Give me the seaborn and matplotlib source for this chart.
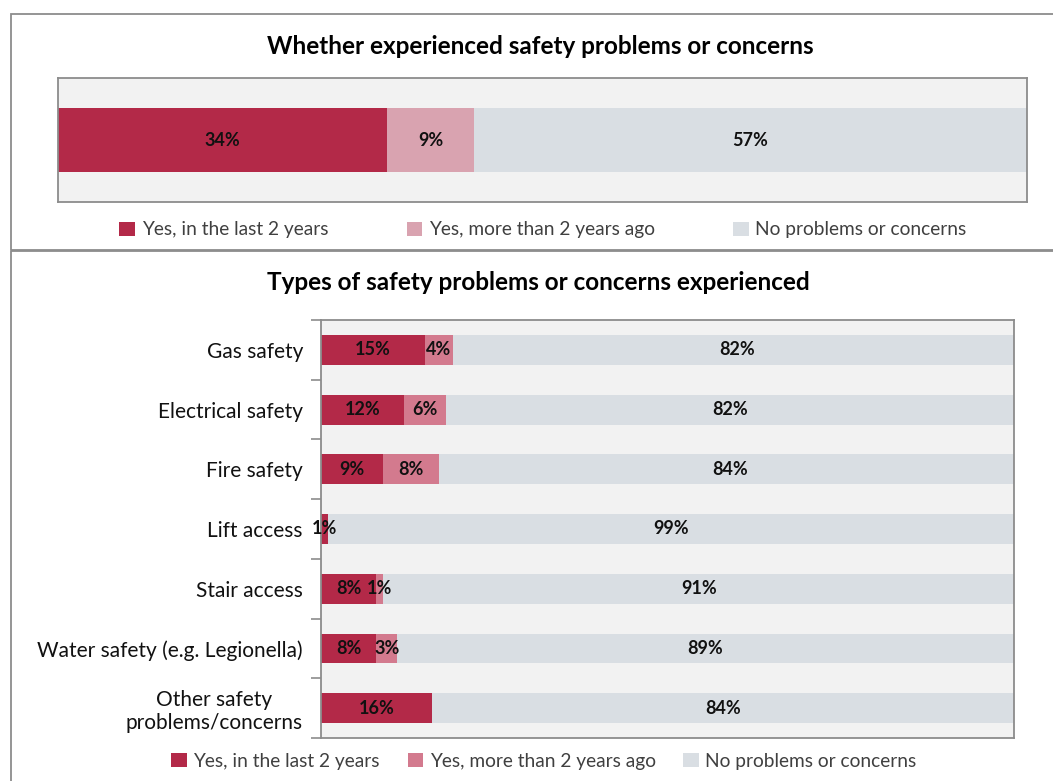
import matplotlib
matplotlib.use("Agg")
import matplotlib.pyplot as plt
from matplotlib.patches import Patch, Rectangle
import numpy as np
import pandas as pd
import seaborn as sns

# ---- data ----
series_names = ["Yes, in the last 2 years", "Yes, more than 2 years ago", "No problems or concerns"]

overall_label = ["All"]
overall_recent = [34]
overall_older = [9]
overall_none = [57]

types = ["Gas safety", "Electrical safety", "Fire safety", "Lift access",
         "Stair access", "Water safety (e.g. Legionella)", "Other safety\nproblems/concerns"]
types_recent = [15, 12, 9, 1, 8, 8, 16]
types_older = [4, 6, 8, 0, 1, 3, 0]
types_none = [82, 82, 84, 99, 91, 89, 84]

# ---- style ----
RED = "#b32948"
PINK_TOP = "#d9a3b0"
PINK_BOT = "#d37a8e"
GREY = "#d9dee3"
BG = "#f2f2f2"
EDGE = "#8c8c8c"

sns.set_theme(style="white")
plt.rcParams["font.family"] = ["Lato", "DejaVu Sans"]

fig = plt.figure(figsize=(10.53, 7.81), dpi=100)
W, H = 1053, 781


def fx(px):
    return px / W


def fy(py):
    return 1 - py / H


# outer frames around each panel
for (x0, y0, x1, y1) in [(10.5, 14, 1060, 249.5), (10.5, 251, 1060, 800)]:
    fig.patches.append(Rectangle((fx(x0), fy(y1)), fx(x1 - x0), (y1 - y0) / H,
                                 transform=fig.transFigure, fill=False,
                                 edgecolor=EDGE, linewidth=1.3, zorder=0))


def stacked(ax, labels, recent, older, none, pink, width):
    df = pd.DataFrame({"cat": labels, "recent": recent, "older": older, "none": none})
    df["c1"] = df["recent"]
    df["c2"] = df["recent"] + df["older"]
    df["c3"] = df["c2"] + df["none"]
    # draw cumulative totals, largest first, so each segment shows through
    for col, color in [("c3", GREY), ("c2", pink), ("c1", RED)]:
        sns.barplot(data=df, x=col, y="cat", orient="h", color=color,
                    width=width, ax=ax, saturation=1, linewidth=0, order=labels)
    # segment labels
    for i, row in df.iterrows():
        starts = [0, row["c1"], row["c2"]]
        vals = [row["recent"], row["older"], row["none"]]
        for s, v in zip(starts, vals):
            if v > 0:
                ax.text(s + v / 2, i, f"{v}%", ha="center", va="center",
                        fontsize=13, fontweight="bold", color="#111111")
    ax.set_xlim(0, 100)
    ax.set_facecolor(BG)
    ax.set_xlabel("")
    ax.set_ylabel("")
    for sp in ax.spines.values():
        sp.set_visible(True)
        sp.set_color(EDGE)
        sp.set_linewidth(1.3)
    ax.set_xticks([])


# ---- top panel ----
ax1 = fig.add_axes([fx(57.7), fy(202), fx(1026.7 - 57.7), (202 - 78) / H])
stacked(ax1, overall_label, overall_recent, overall_older, overall_none, PINK_TOP, 0.51)
ax1.set_yticks([])
ax1.set_ylim(0.5, -0.5)
fig.text(fx(540), fy(46), "Whether experienced safety problems or concerns",
         ha="center", va="center", fontsize=17.5, fontweight="bold", color="black")
h1 = [Patch(facecolor=c, edgecolor="none") for c in (RED, PINK_TOP, GREY)]
fig.legend(h1, series_names, loc="center", bbox_to_anchor=(fx(543), fy(230)),
           ncol=3, frameon=False, fontsize=13.8, handlelength=0.8, handleheight=0.8,
           handletextpad=0.35, columnspacing=4.1, labelcolor="#404040")

# ---- bottom panel ----
ax2 = fig.add_axes([fx(321), fy(738), fx(1014 - 321), (738 - 320) / H])
stacked(ax2, types, types_recent, types_older, types_none, PINK_BOT, 0.5)
n = len(types)
ax2.set_ylim(n - 0.5, -0.5)
ax2.set_yticks(np.arange(n))
ax2.set_yticklabels(types, fontsize=15, color="#111111", ha="right")
ax2.set_yticks(np.arange(-0.5, n, 1.0), minor=True)
ax2.tick_params(axis="y", which="major", length=0, pad=13)
ax2.tick_params(axis="y", which="minor", length=7, color=EDGE, width=1.2, left=True)
for lab in ax2.get_yticklabels():
    lab.set_multialignment("center")
fig.text(fx(538), fy(283), "Types of safety problems or concerns experienced",
         ha="center", va="center", fontsize=17.5, fontweight="bold", color="black")
h2 = [Patch(facecolor=c, edgecolor="none") for c in (RED, PINK_BOT, GREY)]
fig.legend(h2, series_names, loc="center", bbox_to_anchor=(fx(544), fy(761)),
           ncol=3, frameon=False, fontsize=13.8, handlelength=0.8, handleheight=0.8,
           handletextpad=0.35, columnspacing=1.45, labelcolor="#404040")

fig.savefig("out.png", dpi=100, facecolor="white")
